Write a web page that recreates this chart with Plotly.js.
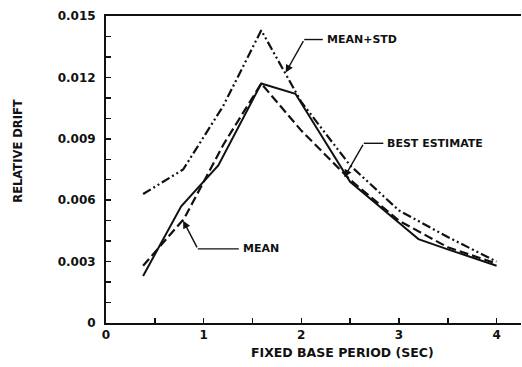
<!DOCTYPE html>
<html>
<head>
<meta charset="utf-8">
<script src="https://cdn.plot.ly/plotly-3.0.1.min.js"></script>
<style>html,body{margin:0;padding:0;background:#fff;}#chart{width:522px;height:367px;}</style>
</head>
<body>
<div id="chart"></div>
<script>
// Data
const periodMean = [0.38, 0.77, 1.15, 1.59, 1.94, 2.5, 3.0, 3.2, 3.5, 4.0];
const driftMean  = [0.0023, 0.0057, 0.0077, 0.0117, 0.0112, 0.0069, 0.0049, 0.0041, 0.0036, 0.0028];

const periodBest = [0.38, 0.8, 1.2, 1.59, 2.0, 2.5, 3.0, 3.5, 4.0];
const driftBest  = [0.0028, 0.0051, 0.0087, 0.0117, 0.0094, 0.0070, 0.0050, 0.0037, 0.0029];

const periodStd = [0.38, 0.79, 1.2, 1.59, 2.0, 2.5, 3.0, 3.5, 4.0];
const driftStd  = [0.0063, 0.0075, 0.0106, 0.0143, 0.0108, 0.0077, 0.0055, 0.0042, 0.0030];

const xTickVals = [0, 1, 2, 3, 4];
const xTickText = ['0', '1', '2', '3', '4'];
const yTickVals = [0, 0.003, 0.006, 0.009, 0.012, 0.015];
const yTickText = ['0', '0.003', '0.006', '0.009', '0.012', '0.015'];

// Callout labels: text, text anchor, leader bend, arrow tip
const labelText = ['MEAN+STD', 'BEST ESTIMATE', 'MEAN'];
const labelX    = [2.24, 2.86, 1.38];
const labelY    = [0.01385, 0.00878, 0.00362];
const bendX     = [2.03, 2.64, 0.94];
const bendY     = [0.01385, 0.00878, 0.00362];
const tipX      = [1.84, 2.44, 0.79];
const tipY      = [0.01224, 0.00712, 0.00500];

const FONT = 'DejaVu Sans, Arial, sans-serif';
const INK = '#111';

const traces = [
  {x: periodStd, y: driftStd, mode: 'lines', name: 'MEAN+STD',
   line: {color: INK, width: 2.2, dash: '9px,3px,2px,3px,2px,3px'}},
  {x: periodBest, y: driftBest, mode: 'lines', name: 'BEST ESTIMATE',
   line: {color: INK, width: 2.2, dash: '9px,4px'}},
  {x: periodMean, y: driftMean, mode: 'lines', name: 'MEAN',
   line: {color: INK, width: 2}}
];

const annotations = [];
const shapes = [];
for (let i = 0; i < labelText.length; i++) {
  annotations.push({x: labelX[i], y: labelY[i], xref: 'x', yref: 'y', text: '<b>' + labelText[i] + '</b>',
    showarrow: false, xanchor: 'left', yanchor: 'middle', font: {family: FONT, size: 11, color: INK}});
  annotations.push({x: tipX[i], y: tipY[i], ax: bendX[i], ay: bendY[i], xref: 'x', yref: 'y', axref: 'x', ayref: 'y',
    text: '', showarrow: true, arrowhead: 2, arrowsize: 1.1, arrowwidth: 1.4, arrowcolor: INK});
  shapes.push({type: 'line', xref: 'x', yref: 'y', x0: bendX[i], y0: bendY[i], x1: labelX[i] - 0.02, y1: labelY[i],
    line: {color: INK, width: 1.4}});
}
annotations.push({xref: 'paper', yref: 'paper', x: 0.57, y: -0.095, text: '<b>FIXED BASE PERIOD (SEC)</b>',
  showarrow: false, xanchor: 'center', yanchor: 'middle', font: {family: FONT, size: 12.5, color: INK}});
annotations.push({xref: 'paper', yref: 'paper', x: -0.213, y: 0.56, text: '<b>RELATIVE DRIFT</b>', textangle: -90,
  showarrow: false, xanchor: 'center', yanchor: 'middle', font: {family: FONT, size: 11.5, color: INK}});

const layout = {
  width: 522, height: 367,
  margin: {l: 106, r: 1, t: 16, b: 44},
  paper_bgcolor: '#fff', plot_bgcolor: '#fff',
  showlegend: false,
  font: {family: FONT, color: INK},
  xaxis: {
    range: [0, 4.25], showgrid: false, zeroline: false,
    showline: true, linecolor: INK, linewidth: 2, mirror: true,
    tickmode: 'array', tickvals: xTickVals, ticktext: xTickText,
    ticks: 'inside', ticklen: 5, tickwidth: 1.5, tickcolor: INK,
    minor: {dtick: 0.5, tick0: 0, ticks: 'inside', ticklen: 5, tickwidth: 1.5, tickcolor: INK},
    tickfont: {family: FONT, size: 12, color: INK, weight: 'bold'}
  },
  yaxis: {
    range: [0, 0.015], showgrid: false, zeroline: false,
    showline: true, linecolor: INK, linewidth: 2,
    tickmode: 'array', tickvals: yTickVals, ticktext: yTickText,
    ticks: 'inside', ticklen: 5, tickwidth: 1.5, tickcolor: INK,
    minor: {dtick: 0.001, tick0: 0, ticks: 'inside', ticklen: 5, tickwidth: 1.5, tickcolor: INK},
    ticklabelstandoff: 6,
    tickfont: {family: FONT, size: 12, color: INK, weight: 'bold'}
  },
  annotations: annotations,
  shapes: shapes
};

Plotly.newPlot('chart', traces, layout, {staticPlot: true, displayModeBar: false});
</script>
</body>
</html>
